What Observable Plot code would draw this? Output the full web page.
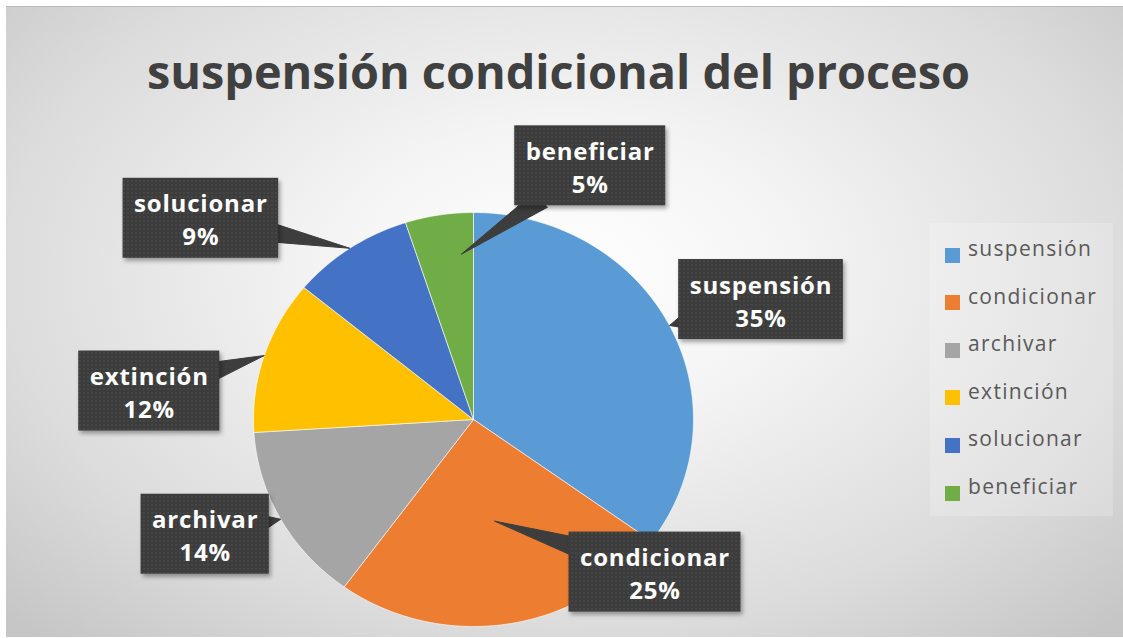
<!DOCTYPE html>
<html>
<head>
<meta charset="utf-8">
<script src="https://cdn.jsdelivr.net/npm/d3@7"></script>
<script src="https://cdn.jsdelivr.net/npm/@observablehq/plot@0.6"></script>
<style>
  body { margin: 0; background: #fff; }
  #frame { position: relative; width: 1123px; height: 638px; overflow: hidden; background: #fff; }
  #chart { position: absolute; left: 6px; top: 6px; width: 1117px; height: 631px;
    background: radial-gradient(ellipse 70% 78% at 50% 42%, #ffffff 0%, #f4f4f4 30%, #dcdcdc 72%, #c6c6c6 100%);
    border-top: 1px solid #bdbdbd; box-sizing: border-box; }
  #title { position: absolute; left: -6px; top: 32px; width: 100%; text-align: center;
    font-family: "Open Sans", sans-serif; font-weight: 700; color: #404040; line-height: normal; white-space: nowrap; }
  #plot { position: absolute; left: 0; top: 120px; }
  #legend { position: absolute; left: 924px; top: 216px; width: 183px; height: 293px; background: rgba(255,255,255,0.2); }
  .item { position: absolute; left: 15px; height: 20px; display: flex; align-items: center; }
  .sw { width: 15px; height: 15px; margin-right: 8px; }
  .lt { font-family: "Open Sans", sans-serif; font-size: 21px; color: #595959; letter-spacing: 1.3px; position: relative; top: -7px; }
  g[aria-label="rect"] rect { filter: drop-shadow(2px 3px 2px rgba(0,0,0,0.35)); }
  g[aria-label="text"] text { letter-spacing: 0.8px; }
</style>
</head>
<body>
<div id="frame"><div id="chart"><div id="title"></div><div id="plot"></div><div id="legend"></div></div></div>
<script>
// ---- data ----
const categories = ["suspensión", "condicionar", "archivar", "extinción", "solucionar", "beneficiar"];
const percents = [35, 25, 14, 12, 9, 5];
const colors = ["#5B9BD5", "#ED7D31", "#A5A5A5", "#FFC000", "#4472C4", "#70AD47"];
const titleText = "suspensión condicional del proceso";

// ---- layout (callout placement) ----
const tipRadius = [1.0, 0.5, 1.0, 1.0, 1.0, 0.8];
const tipAngleShift = [0, -2, 0, 0, 0, 5];   // degrees
const boxOffset = [[91.5, -26], [160.5, 51], [-75.5, 15], [-115, 35.5], [-149, -30], [129, -88.5]];
const calloutColor = "#3d3d3d";

const W = 1117, H = 511, CX = 467, CY = 292, RX = 220, RY = 207;
const toX = v => (v - CX) / RX;
const toY = v => (CY - v) / RY;

const canvas = document.createElement("canvas").getContext("2d");
function measure(text, font, spacing = 0) { canvas.font = font; return canvas.measureText(text).width + spacing * text.length; }

// title sized to match width
const titleEl = document.getElementById("title");
titleEl.textContent = titleText;
const tw = measure(titleText, "700 46px 'Open Sans'");
titleEl.style.fontSize = (46 * 823 / tw).toFixed(2) + "px";

const data = categories.map((c, i) => ({name: c, value: percents[i]}));
const arcs = d3.pie().sort(null).value(d => d.value)(data);

const wedgePts = [];
arcs.forEach(a => {
  const n = Math.max(4, Math.ceil((a.endAngle - a.startAngle) / (Math.PI / 180)));
  wedgePts.push({name: a.data.name, x: 0, y: 0});
  for (let k = 0; k <= n; k++) {
    const t = a.startAngle + (a.endAngle - a.startAngle) * k / n;
    wedgePts.push({name: a.data.name, x: Math.sin(t), y: Math.cos(t)});
  }
  wedgePts.push({name: a.data.name, x: 0, y: 0});
});

const boxes = [], pointers = [];
arcs.forEach((a, i) => {
  const mid = (a.startAngle + a.endAngle) / 2 + tipAngleShift[i] * Math.PI / 180;
  const r = tipRadius[i];
  const tip = [CX + r * Math.sin(mid) * RX, CY - r * Math.cos(mid) * RY];
  const c = [tip[0] + boxOffset[i][0], tip[1] + boxOffset[i][1]];
  const w = measure(a.data.name, "bold 24px 'Open Sans'", 0.8) + 22, h = 80;
  boxes.push({name: a.data.name, label: `${a.data.name}\n${a.data.value}%`,
    x1: toX(c[0] - w / 2), x2: toX(c[0] + w / 2), y1: toY(c[1] - h / 2), y2: toY(c[1] + h / 2),
    cx: toX(c[0]), cy: toY(c[1])});
  const dx = tip[0] - c[0], dy = tip[1] - c[1], L = Math.hypot(dx, dy);
  const ux = dx / L, uy = dy / L;
  const tEdge = Math.min(Math.abs((w / 2) / (Math.abs(ux) > 1e-6 ? ux : 1e-6)), Math.abs((h / 2) / (Math.abs(uy) > 1e-6 ? uy : 1e-6)));
  const ex = c[0] + ux * (tEdge - 12), ey = c[1] + uy * (tEdge - 12);
  const hw = 10, nx = -uy, ny = ux;
  const pts = [[ex + nx * hw, ey + ny * hw], tip, [ex - nx * hw, ey - ny * hw]];
  pts.forEach(p => pointers.push({name: "callout " + a.data.name, kind: "callout", x: toX(p[0]), y: toY(p[1])}));
});

const chart = Plot.plot({
  width: W, height: H, margin: 0,
  x: {domain: [-1, 1], range: [CX - RX, CX + RX], axis: null},
  y: {domain: [-1, 1], range: [CY + RY, CY - RY], axis: null},
  color: {domain: [...categories, "callout"], range: [...colors, calloutColor]},
  style: {background: "transparent", overflow: "visible"},
  marks: [
    Plot.line(wedgePts, {x: "x", y: "y", z: "name", fill: "name", stroke: "white", strokeWidth: 1, strokeOpacity: 0.6, strokeLinejoin: "round"}),
    Plot.line(pointers, {x: "x", y: "y", z: "name", fill: "kind", stroke: "kind", strokeWidth: 1, strokeLinejoin: "miter"}),
    Plot.rect(boxes, {x1: "x1", x2: "x2", y1: "y1", y2: "y2", fill: "url(#dots)"}),
    Plot.text(boxes, {x: "cx", y: "cy", text: "label", fill: "white", fontSize: 24, fontWeight: "bold", fontFamily: "Open Sans", lineHeight: 1.38})
  ]
});
d3.select(chart).insert("defs", ":first-child").html(
  `<pattern id="dots" width="4" height="4" patternUnits="userSpaceOnUse"><rect width="4" height="4" fill="#3c3c3c"/><circle cx="2" cy="2" r="0.9" fill="#4a4a4a"/></pattern>`);
document.getElementById("plot").appendChild(chart);

// legend
const legend = d3.select("#legend");
categories.forEach((c, i) => {
  const item = legend.append("div").attr("class", "item").style("top", (32 + i * 47.6 - 10) + "px");
  item.append("div").attr("class", "sw").style("background", colors[i]);
  item.append("div").attr("class", "lt").text(c);
});
</script>
</body>
</html>
